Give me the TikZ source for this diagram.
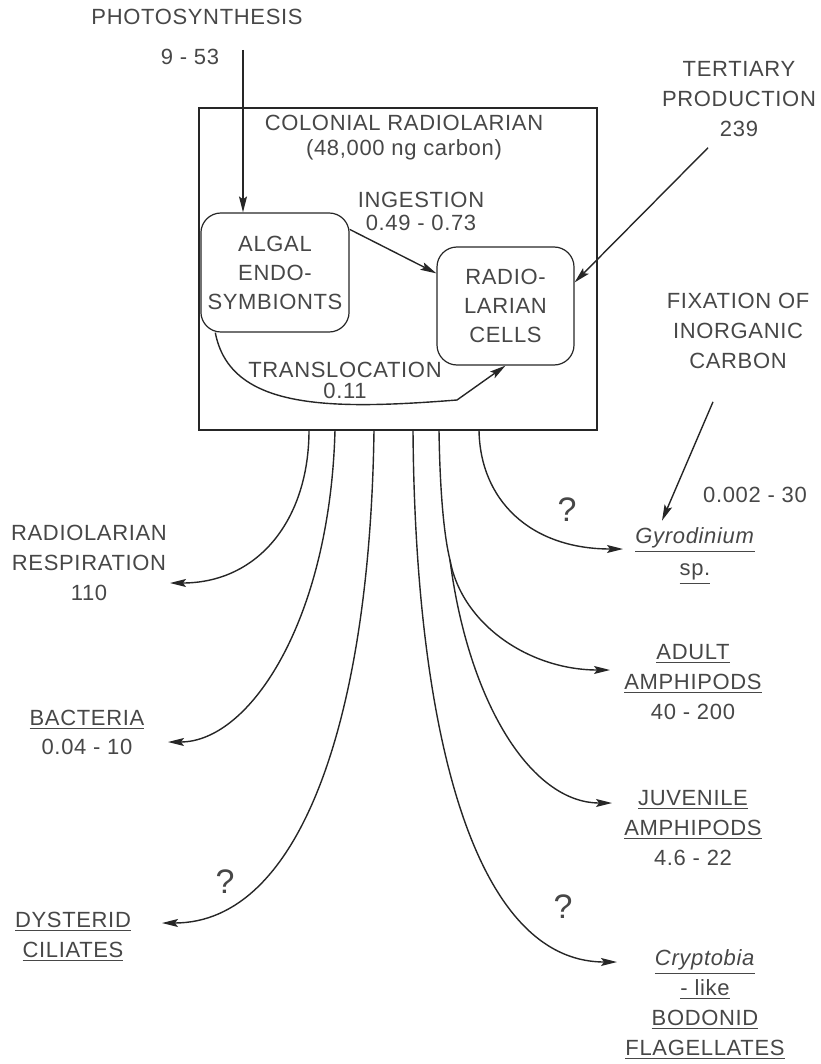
\documentclass[tikz,border=0pt]{standalone}
\usepackage{fontspec}
\setmainfont{Liberation Sans}[LetterSpace=3]
\usetikzlibrary{arrows.meta}

\begin{document}
\begin{tikzpicture}[x=0.5pt,y=-0.5pt,>={Stealth[length=8pt,width=4pt,inset=1.5pt]},
  lbl/.style={align=center,text=black!72,font=\fontsize{11}{15}\selectfont},
  cell/.style={draw=black!85,line width=0.6pt,rounded corners=10pt,minimum width=72pt,minimum height=59.5pt,align=center,text=black!72,font=\fontsize{11}{14.5}\selectfont},
  line/.style={draw=black!85,line width=0.7pt},
  flow/.style={line,->},
  query/.style={text=black!72,font=\fontsize{17}{20}\selectfont}]
 \useasboundingbox (0,0) rectangle (820,1064);
 \node[lbl] (photo) at (197,17) {PHOTOSYNTHESIS};
 \node[lbl] (photoval) at (190,57) {9 - 53};
 \node[draw=black!85,line width=0.6pt,inner sep=0,minimum width=199pt,minimum height=161pt] (colony) at (398,269) {};
 \node[lbl] (colonytxt) at (404,138) {COLONIAL RADIOLARIAN\\[-2.5pt](48,000 ng carbon)};
 \node[cell] (algal) at (275,272.5) {ALGAL\\ENDO-\\SYMBIONTS};
 \node[cell,minimum width=68.5pt,minimum height=59pt] (radio) at (505.5,306) {RADIO-\\LARIAN\\CELLS};
 \node[lbl] (ingest) at (421,211) {INGESTION\\[-3.5pt]0.49 - 0.73};
 \node[lbl] (transl) at (345,380) {TRANSLOCATION\\[-4.5pt]0.11};
 \node[lbl] (tert) at (739,99) {TERTIARY\\PRODUCTION\\239};
 \node[lbl] (fix) at (738,331) {FIXATION OF\\INORGANIC\\CARBON};
 \node[lbl] (fixval) at (755,495) {0.002 - 30};
 \node[lbl] (gyro) at (695,556) {\underline{\textit{Gyrodinium}}\\[1pt]\underline{sp.}};
 \node[lbl] (resp) at (89,563) {RADIOLARIAN\\RESPIRATION\\110};
 \node[lbl] (bact) at (87,732) {\underline{BACTERIA}\\[-0.5pt]0.04 - 10};
 \node[lbl] (cil) at (73,937) {\underline{DYSTERID}\\\underline{CILIATES}};
 \node[lbl] (adult) at (693,682) {\underline{ADULT}\\\underline{AMPHIPODS}\\40 - 200};
 \node[lbl] (juv) at (693,828) {\underline{JUVENILE}\\\underline{AMPHIPODS}\\4.6 - 22};
 \node[lbl] (flag) at (705,1005) {\underline{\textit{Cryptobia}}\\\underline{- like}\\\underline{BODONID}\\\underline{FLAGELLATES}};
 \node[query] (q1) at (567,510) {?};
 \node[query] (q2) at (225,882) {?};
 \node[query] (q3) at (563,907) {?};

 \coordinate (psin) at (243,50);
 \draw[flow] (psin) -- (psin |- algal.north);
 \draw[flow] ([yshift=-8.5pt]algal.north east) -- ([yshift=-13.5pt]radio.north west);
 \draw[flow] ([xshift=7.5pt]algal.south west) .. controls (230,410) and (330,410) .. (457,400) -- (radio.south);
 \draw[flow] ([xshift=-15.5pt,yshift=-2pt]tert.south) -- ([yshift=-18pt]radio.north east);
 \draw[flow] ([xshift=-12.5pt,yshift=-13pt]fix.south) -- ([xshift=-16.5pt]gyro.north);

 \coordinate (o1) at (309,430);
 \coordinate (o2) at (335,430);
 \coordinate (o3) at (374,430);
 \coordinate (o4) at (413,430);
 \coordinate (o5) at (439,430);
 \coordinate (o6) at (479,430);
 \coordinate (split) at (450,560);
 \coordinate (tResp) at (170,583);
 \coordinate (tBact) at (168,742);
 \coordinate (tCil) at (162,923);
 \coordinate (tFlag) at (617,962);
 \coordinate (tAdult) at (610,670);
 \coordinate (tJuv) at (612,803);
 \coordinate (tGyro) at (623,549);
 \draw[flow] (o1) .. controls (309,520) and (258,583) .. (tResp);
 \draw[flow] (o2) .. controls (330,620) and (250,742) .. (tBact);
 \draw[flow] (o3) .. controls (370,720) and (300,923) .. (tCil);
 \draw[flow] (o4) .. controls (415,720) and (470,962) .. (tFlag);
 \draw[line] (o5) .. controls (440,500) and (445,540) .. (split);
 \draw[flow] (split) .. controls (462,625) and (530,670) .. (tAdult);
 \draw[flow] (split) .. controls (468,700) and (530,803) .. (tJuv);
 \draw[flow] (o6) .. controls (480,500) and (530,549) .. (tGyro);
\end{tikzpicture}
\end{document}
